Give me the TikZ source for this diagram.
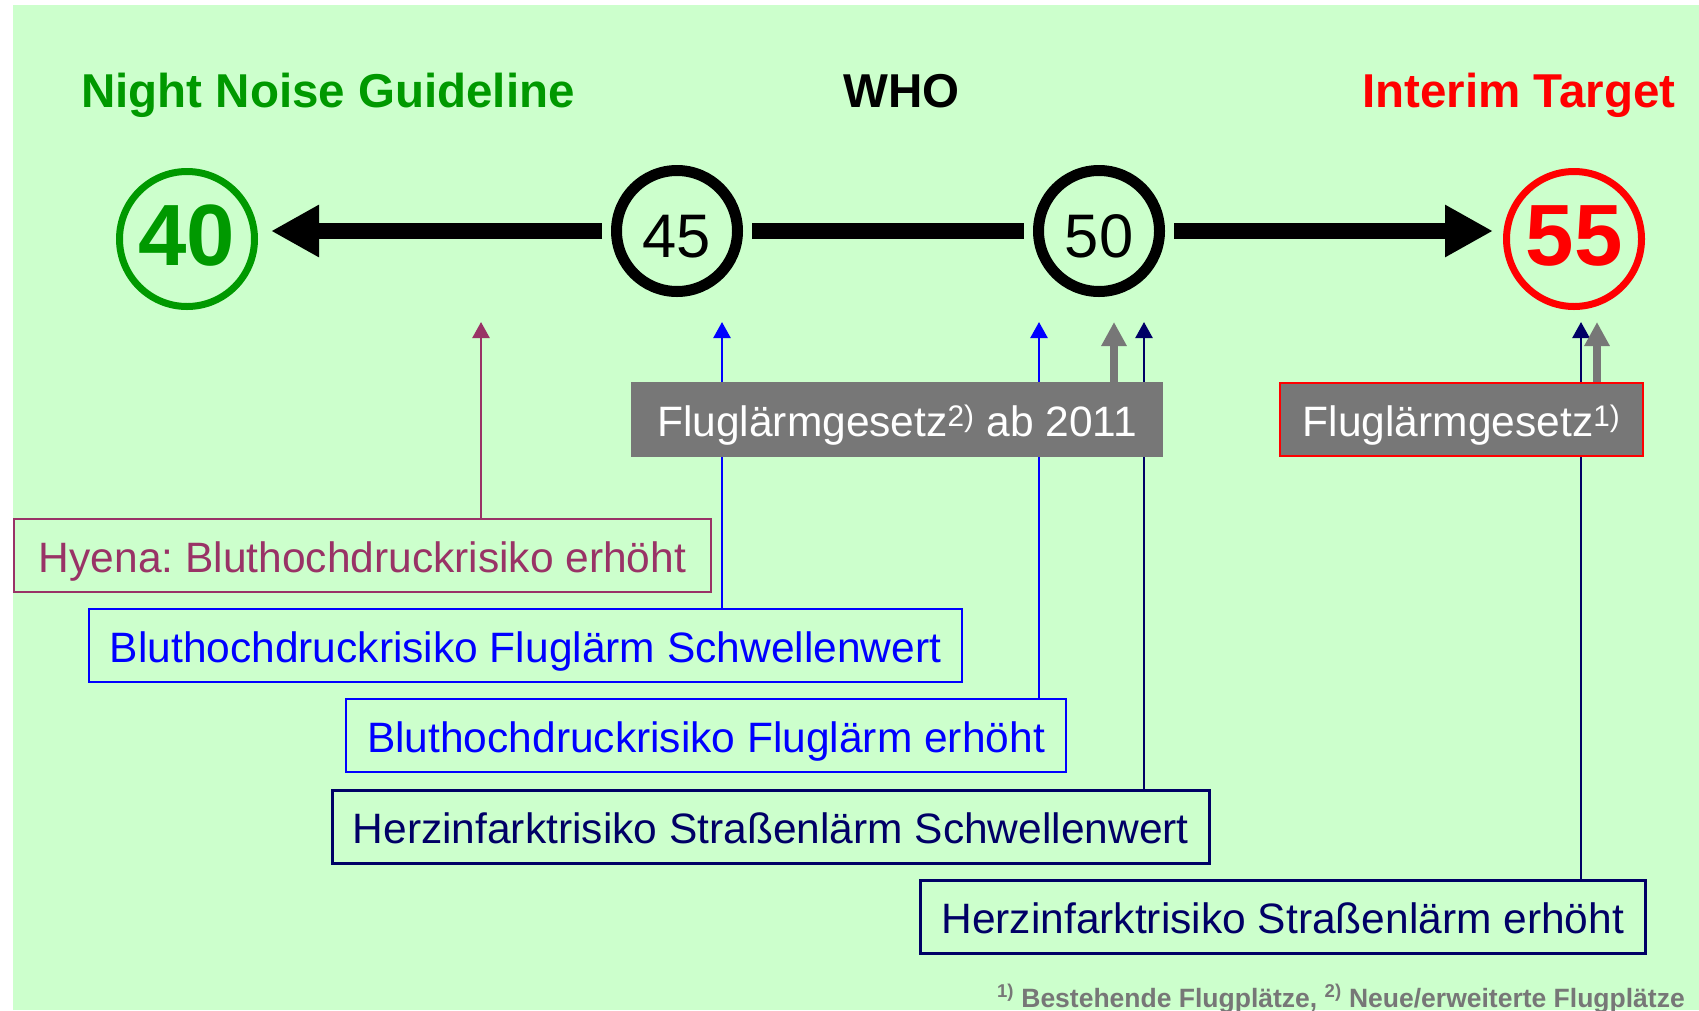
\documentclass[tikz,border=0pt]{standalone}
\usepackage{fontspec}
\setmainfont{Liberation Sans}
\usetikzlibrary{arrows.meta}
\definecolor{bgGreen}{HTML}{CCFFCC}
\definecolor{titleGreen}{HTML}{009900}
\definecolor{plumC}{HTML}{993366}
\definecolor{navyC}{HTML}{000066}
\definecolor{grayC}{HTML}{777777}
\definecolor{redC}{HTML}{FF0000}
\definecolor{blueC}{HTML}{0000FF}
\pgfdeclarelayer{background}
\pgfdeclarelayer{connectors}
\pgfsetlayers{background,connectors,main}
\frenchspacing
\begin{document}
\begin{tikzpicture}[x=1pt,y=-1pt,
  titletext/.style={font=\fontsize{47.5}{55}\selectfont\bfseries, anchor=base west, inner sep=0pt},
  bigcircle/.style={circle, draw, line width=7pt, minimum size=135pt, inner sep=0pt,
     font=\fontsize{87}{90}\selectfont\bfseries, text height=62pt, text depth=10pt},
  midcircle/.style={circle, draw=black, line width=11pt, minimum size=121pt, inner sep=0pt,
     font=\fontsize{61.5}{65}\selectfont, text height=52pt, text depth=0pt},
  bigarrow/.style={line width=16pt, -{Triangle[width=49pt,length=48pt]}},
  boxnode/.style={draw, line width=2pt, inner sep=0pt, minimum height=73pt, anchor=north west,
     text height=40pt, text depth=7pt, font=\fontsize{42.5}{50}\selectfont},
  thinarrow/.style={line width=2.5pt, -{Triangle[width=17pt,length=16pt]}},
  grayarrow/.style={line width=8pt, draw=grayC, -{Triangle[width=24pt,length=24pt]}},
]
\useasboundingbox (0,0) rectangle (1699,1010);
\begin{pgfonlayer}{background}
  \fill[white] (0,0) rectangle (1699,1010);
  \fill[bgGreen] (13,5) rectangle (1699,1010);
\end{pgfonlayer}

% titles
\node[titletext, text=titleGreen] (tNNG) at (81,107) {Night Noise Guideline};
\node[titletext, text=black] (tWHO) at (843,107) {WHO};
\node[titletext, text=redC] (tIT) at (1362,107) {Interim Target};

% circles
\node[bigcircle, draw=titleGreen, text=titleGreen] (c40) at (187,239) {40};
\node[midcircle] (c45) at (677,231) {45};
\node[midcircle] (c50) at (1099,231) {50};
\node[bigcircle, draw=redC, text=redC] (c55) at (1574,239) {55};

% scale arrows
\draw[bigarrow, shorten <=9pt, shorten >=13pt] (c45.west) -- (c45.west -| c40.east);
\draw[line width=16pt, shorten <=9pt, shorten >=9pt] (c45.east) -- (c50.west);
\draw[bigarrow, shorten <=9pt, shorten >=10pt] (c50.east) -- (c50.east -| c55.west);

% boxes
\node[boxnode, draw=grayC, fill=grayC, text=white, minimum width=530pt] (g1) at (631,382)
  {Fluglärmgesetz\textsuperscript{2)} ab 2011};
\node[boxnode, draw=redC, fill=grayC, text=white, minimum width=363pt] (g2) at (1279,382)
  {Fluglärmgesetz\textsuperscript{1)}};
\node[boxnode, draw=plumC, text=plumC, minimum width=697pt] (hy) at (13,518)
  {Hyena: Bluthochdruckrisiko erhöht};
\node[boxnode, draw=blueC, text=blueC, minimum width=873pt] (b1) at (88,608)
  {Bluthochdruckrisiko Fluglärm Schwellenwert};
\node[boxnode, draw=blueC, text=blueC, minimum width=720pt] (b2) at (345,698)
  {Bluthochdruckrisiko Fluglärm erhöht};
\node[boxnode, draw=navyC, text=navyC, line width=2.5pt, minimum width=877pt] (n1) at (331,789)
  {Herzinfarktrisiko Straßenlärm Schwellenwert};
\node[boxnode, draw=navyC, text=navyC, line width=2.5pt, minimum width=725pt] (n2) at (919,879)
  {Herzinfarktrisiko Straßenlärm erhöht};

% arrow tips
\coordinate (tHy) at (481,322);
\coordinate (tB1) at (722,322);
\coordinate (tB2) at (1039,322);
\coordinate (tG1) at (1114,322);
\coordinate (tN1) at (1144,322);
\coordinate (tN2) at (1581,322);
\coordinate (tG2) at (1597,322);

\begin{pgfonlayer}{connectors}
  \draw[thinarrow, draw=plumC, fill=plumC] (hy.north -| tHy) -- (tHy);
  \draw[thinarrow, draw=blueC, fill=blueC] (b1.north -| tB1) -- (tB1);
  \draw[thinarrow, draw=blueC, fill=blueC] (b2.north -| tB2) -- (tB2);
  \draw[thinarrow, draw=navyC, fill=navyC] (n1.north -| tN1) -- (tN1);
  \draw[thinarrow, draw=navyC, fill=navyC] (n2.north -| tN2) -- (tN2);
\end{pgfonlayer}
\draw[grayarrow] (g1.north -| tG1) -- (tG1);
\draw[grayarrow] (g2.north -| tG2) -- (tG2);

% footnote
\node[anchor=base east, inner sep=0pt, text=grayC, font=\fontsize{26.5}{30}\selectfont\bfseries] (fn) at (1685,1007)
  {\textsuperscript{1)} Bestehende Flugplätze, \textsuperscript{2)} Neue/erweiterte Flugplätze};
\end{tikzpicture}
\end{document}
